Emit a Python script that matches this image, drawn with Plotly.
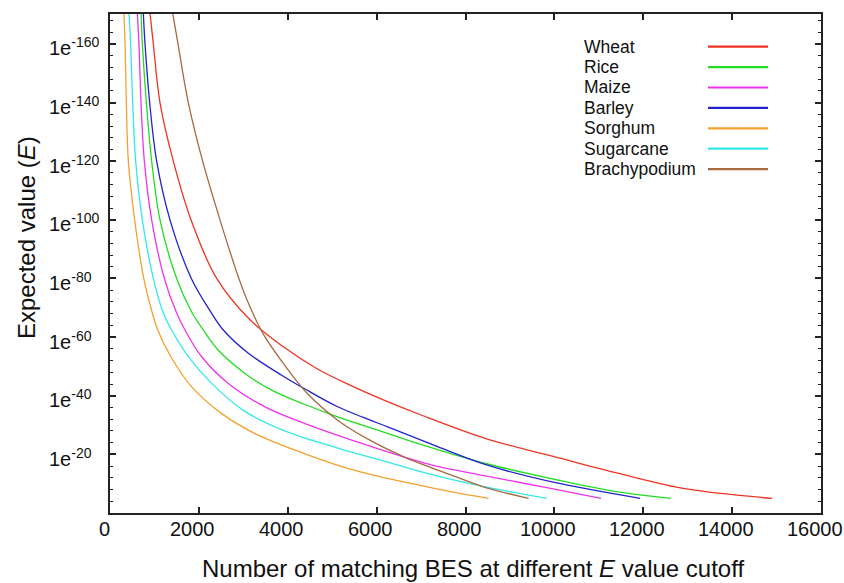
import plotly.graph_objects as go

# ---------------- data ----------------
# y = -log10(E cutoff); x = number of matching BES
series_names = ["Wheat", "Rice", "Maize", "Barley", "Sorghum", "Sugarcane", "Brachypodium"]
series_colors = ["#ee3322", "#22dd22", "#ee33ee", "#2222cc", "#f5a030", "#33e8e8", "#a86a40"]

wheat_x = [900, 975, 1125, 1425, 1823, 2400, 3150, 3900, 4650, 5400, 6150, 6975, 8475, 9975, 11475, 12975, 14900]
wheat_y = [170.5, 160, 140, 120, 100, 80, 65.9, 56.7, 49.3, 43.6, 38.6, 33.6, 25.3, 19.3, 13.4, 8.2, 5]

rice_x = [698, 728, 818, 938, 1125, 1500, 1850, 2100, 2438, 3038, 3638, 4388, 5138, 6263, 6975, 8475, 9975, 11475, 12620]
rice_y = [170.5, 160, 140, 120, 100, 80, 68.2, 62.4, 55.5, 47.6, 41.9, 37.0, 32.7, 27.1, 23.5, 16.8, 11.6, 7.1, 5]

maize_x = [615, 652, 698, 773, 938, 1223, 1500, 1688, 2063, 2663, 3488, 4388, 5513, 6638, 7313, 8475, 9975, 11050]
maize_y = [170.5, 160, 140, 120, 100, 80, 68.2, 62.4, 53.3, 44.2, 36.2, 30.5, 24.5, 19.0, 16.1, 12.6, 8.2, 5]

barley_x = [750, 788, 893, 1050, 1350, 1830, 2250, 2550, 3113, 3863, 4400, 5100, 5700, 6263, 7313, 8475, 9975, 11930]
barley_y = [170.5, 160, 140, 120, 100, 80, 69.0, 62.4, 54.5, 47.0, 42.2, 36.4, 32.6, 29.3, 23.0, 16.4, 10.5, 5]

sorghum_x = [315, 338, 368, 413, 555, 760, 920, 1075, 1370, 1838, 2513, 3263, 4388, 5513, 6975, 7725, 8520]
sorghum_y = [170.5, 160, 140, 120, 100, 80, 70, 62.4, 53.3, 43.0, 33.9, 27.1, 20.2, 14.5, 9.4, 7.1, 5]

sugarcane_x = [428, 465, 510, 578, 728, 975, 1200, 1388, 1763, 2288, 3000, 3900, 5050, 6263, 7313, 8475, 9830]
sugarcane_y = [170.5, 160, 140, 120, 100, 80, 68.2, 62.4, 53.3, 44.2, 35.0, 28.2, 22.5, 17.3, 12.8, 8.8, 5]

brachy_x = [1410, 1530, 1762, 2085, 2475, 2900, 3130, 3450, 3900, 4425, 5138, 5888, 6638, 7313, 7725, 8475, 9420]
brachy_y = [170.5, 160, 140, 120, 100, 80, 71, 61, 51, 41.0, 31.5, 24.5, 19.0, 15.0, 12.7, 8.6, 5]

series_x = [wheat_x, rice_x, maize_x, barley_x, sorghum_x, sugarcane_x, brachy_x]
series_y = [wheat_y, rice_y, maize_y, barley_y, sorghum_y, sugarcane_y, brachy_y]

x_ticks = [0, 2000, 4000, 6000, 8000, 10000, 12000, 14000, 16000]
x_tick_labels = [str(v) for v in x_ticks]
y_ticks = [20, 40, 60, 80, 100, 120, 140, 160]
y_tick_labels = ["1e<sup>-%d</sup>" % v for v in y_ticks]

x_title = "Number of matching BES at different <i>E</i> value cutoff"
y_title = "Expected value (<i>E</i>)"

# ---------------- layout geometry ----------------
W, H = 844, 583
L, R, T, B = 110, 23, 14, 70
PW, PH = W - L - R, H - T - B


def px_x(px):
    return (px - L) / PW


def px_y(py):
    return (H - B - py) / PH


FONT = "Liberation Sans, Arial, sans-serif"

fig = go.Figure()
for name, color, xs, ys in zip(series_names, series_colors, series_x, series_y):
    fig.add_trace(go.Scatter(
        x=xs, y=ys, mode="lines", name=name,
        line=dict(color=color, width=1.3, shape="spline", smoothing=1.0),
        showlegend=False, hoverinfo="skip",
    ))

annotations = []
# y tick labels (left aligned like the reference)
for v, lab in zip(y_ticks, y_tick_labels):
    annotations.append(dict(
        x=px_x(48), xref="paper", y=v, yref="y", text=lab, showarrow=False,
        xanchor="left", yanchor="middle", yshift=-3, borderpad=0,
        font=dict(family=FONT, size=20, color="#111"),
    ))
# x tick labels
for v, lab in zip(x_ticks, x_tick_labels):
    annotations.append(dict(
        x=v, xref="x", y=px_y(529), yref="paper", text=lab, showarrow=False,
        xanchor="center", yanchor="middle", xshift=-6, borderpad=0,
        font=dict(family=FONT, size=20, color="#111"),
    ))

# axis titles
annotations.append(dict(
    x=px_x(473), xref="paper", y=px_y(568), yref="paper", text=x_title, showarrow=False,
    xanchor="center", yanchor="middle", borderpad=0, font=dict(family=FONT, size=24, color="#111"),
))
annotations.append(dict(
    x=px_x(26), xref="paper", y=px_y(238), yref="paper", text=y_title, showarrow=False,
    xanchor="center", yanchor="middle", textangle=-90, borderpad=0,
    font=dict(family=FONT, size=24, color="#111"),
))

# custom legend: text left, line sample right
shapes = []
leg_y0 = 46.7
leg_dy = 20.4
for i, (name, color) in enumerate(zip(series_names, series_colors)):
    py = leg_y0 + i * leg_dy
    annotations.append(dict(
        x=px_x(583), xref="paper", y=px_y(py), yref="paper", text=name, showarrow=False,
        xanchor="left", yanchor="middle", borderpad=0, font=dict(family=FONT, size=17.5, color="#111"),
    ))
    shapes.append(dict(
        type="line", xref="paper", yref="paper",
        x0=px_x(708), x1=px_x(768), y0=px_y(py), y1=px_y(py),
        line=dict(color=color, width=2.2),
    ))

axis_common = dict(
    showgrid=False, zeroline=False, showline=True, linecolor="#222", linewidth=1.8,
    mirror="ticks", ticks="inside", tickcolor="#222", tickwidth=1.5,
)

fig.update_layout(
    width=W, height=H,
    margin=dict(l=L, r=R, t=T, b=B, pad=0),
    paper_bgcolor="white", plot_bgcolor="white",
    font=dict(family=FONT, size=20, color="#111"),
    xaxis=dict(
        range=[0, 16000], tickvals=x_ticks, showticklabels=False, ticklen=6,
        **axis_common,
    ),
    yaxis=dict(
        range=[0, 170.2], tickvals=y_ticks, showticklabels=False, ticklen=6,
        minor=dict(dtick=4, tick0=0, ticks="inside", ticklen=3, tickcolor="#222", tickwidth=1.2),
        **axis_common,
    ),
    annotations=annotations,
    shapes=shapes,
    showlegend=False,
)

fig.write_html(
    "out.html",
    config={"displayModeBar": False},
    post_script=(
        "document.body.style.margin='0px';"
        "document.body.style.overflow='hidden';"
        "document.documentElement.style.overflow='hidden';"
    ),
)
